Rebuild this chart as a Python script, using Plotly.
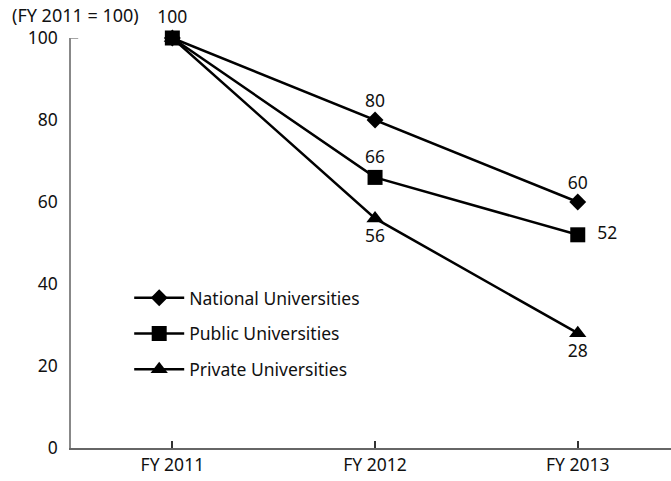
import plotly.graph_objects as go

categories = ["FY 2011", "FY 2012", "FY 2013"]
national = [100, 80, 60]
public = [100, 66, 52]
private = [100, 56, 28]
y_ticks = [0, 20, 40, 60, 80, 100]

font = dict(family="Noto Sans", size=17.5, color="#111")

fig = go.Figure()
fig.add_trace(go.Scatter(
    x=categories, y=national, name="National Universities", mode="lines+markers+text",
    legendgroup="n",
    line=dict(color="black", width=2.5),
    marker=dict(symbol="diamond", size=13, color="black"),
    text=["", "80", "60"], textposition=["top center", "top center", "top center"],
    textfont=font, cliponaxis=False))
fig.add_trace(go.Scatter(
    x=categories, y=public, name="Public Universities", mode="lines+markers+text",
    legendgroup="p",
    line=dict(color="black", width=2.5),
    marker=dict(symbol="square", size=15, color="black"),
    text=["100", "66", "  52"], textposition=["top center", "top center", "middle right"],
    textfont=font, cliponaxis=False))
fig.add_trace(go.Scatter(
    x=categories, y=private, name="Private Universities", mode="lines+markers+text",
    legendgroup="r",
    line=dict(color="black", width=2.5),
    marker=dict(symbol="triangle-up", size=15, color="black"),
    text=["", "56", "28"], textposition=["bottom center", "bottom center", "bottom center"],
    textfont=font, cliponaxis=False))

fig.add_annotation(text="(FY 2011 = 100)", xref="paper", yref="paper",
                   x=-0.102, y=1.0, xanchor="left", yanchor="bottom", yshift=9,
                   showarrow=False, font=dict(family="Noto Sans", size=18, color="#111"))

fig.update_layout(
    width=671, height=481,
    margin=dict(l=71, r=0, t=38, b=33),
    plot_bgcolor="white", paper_bgcolor="white",
    font=font,
    showlegend=True,
    legend=dict(x=0.097, y=0.41, xanchor="left", yanchor="top",
                bgcolor="rgba(0,0,0,0)", font=font, tracegroupgap=10,
                itemwidth=50),
    xaxis=dict(range=[-0.5, 2.46], showline=True, linecolor="#666", linewidth=1.5,
               ticks="inside", ticklen=7, tickcolor="#333", tickwidth=1.5,
               showgrid=False, zeroline=False, tickfont=font),
    yaxis=dict(range=[0, 100], showline=True, linecolor="#888", linewidth=1.5,
               tickvals=y_ticks, ticks="", ticklabelstandoff=8,
               showgrid=False, zeroline=False, tickfont=font),
)
fig.add_shape(type="line", xref="paper", yref="y", x0=0, x1=0.012, y0=100, y1=100,
              line=dict(color="#888", width=1.5))

fig.write_html("out.html", config={"displayModeBar": False},
               post_script="document.body.style.margin='0';")
